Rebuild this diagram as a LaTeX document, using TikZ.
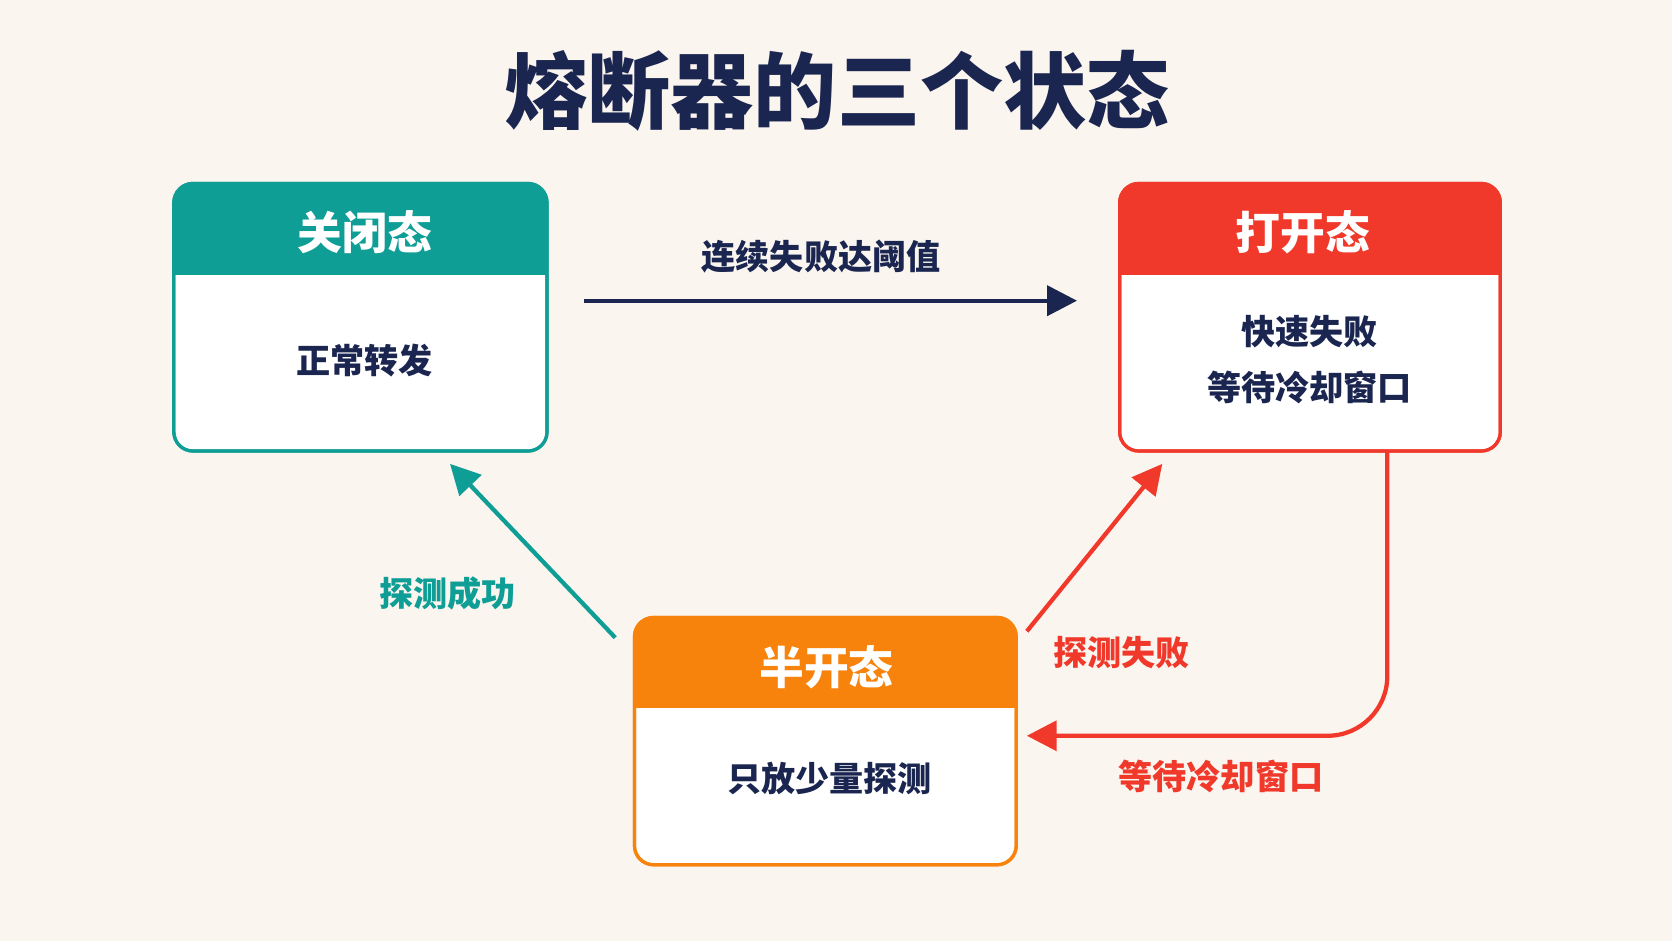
\documentclass[tikz,border=0pt]{standalone}
\usepackage{fontspec}
\setmainfont{Noto Sans CJK SC}
\usetikzlibrary{arrows.meta}
\definecolor{bg}{HTML}{FAF5EF}
\definecolor{navy}{HTML}{1A2550}
\definecolor{teal}{HTML}{0E9E96}
\definecolor{rd}{HTML}{F0392B}
\definecolor{org}{HTML}{F7820C}
\begin{document}
\begin{tikzpicture}[x=0.5pt,y=-0.5pt,
 box/.style={draw=#1,line width=1.5pt,fill=white,rounded corners=9pt},
 head/.style={fill=#1,rounded corners=9pt},
 htxt/.style={text=white,font=\fontsize{21}{24}\selectfont\bfseries},
 btxt/.style={text=navy,font=\fontsize{16}{20}\selectfont\bfseries,align=center},
 lbl/.style={font=\fontsize{16}{20}\selectfont\bfseries},
 arr/.style={line width=2pt,-{Triangle[length=14pt,width=14pt]}}]
\fill[bg] (0,0) rectangle (1568,882);
\node[text=navy,font=\fontsize{39}{44}\selectfont\bfseries] (title) at (785,85) {熔断器的三个状态};
% closed
\path[box=teal] (163,172) rectangle (513,423);
\begin{scope}
\clip[rounded corners=9pt] (163,172) rectangle (513,423);
\fill[teal] (163,172) rectangle (513,258);
\end{scope}
\draw[teal,line width=1.5pt,rounded corners=9pt] (163,172) rectangle (513,423);
\node[htxt] (ch) at (342,218) {关闭态};
\node[btxt] (cb) at (342,338) {正常转发};
\coordinate (closed) at (338,297);
% open
\path[box=rd] (1050,172) rectangle (1407,423);
\begin{scope}
\clip[rounded corners=9pt] (1050,172) rectangle (1407,423);
\fill[rd] (1050,172) rectangle (1407,258);
\end{scope}
\draw[rd,line width=1.5pt,rounded corners=9pt] (1050,172) rectangle (1407,423);
\node[htxt] (oh) at (1222,218) {打开态};
\node[btxt] (ob1) at (1228,311) {快速失败};
\node[btxt] (ob2) at (1228,363) {等待冷却窗口};
% half
\path[box=org] (595,579) rectangle (953,811);
\begin{scope}
\clip[rounded corners=9pt] (595,579) rectangle (953,811);
\fill[org] (595,579) rectangle (953,664);
\end{scope}
\draw[org,line width=1.5pt,rounded corners=9pt] (595,579) rectangle (953,811);
\node[htxt] (hh) at (775,626) {半开态};
\node[btxt] (hb) at (778,730) {只放少量探测};
% arrows
\coordinate (a1s) at (548,282); \coordinate (a1e) at (1010,282);
\draw[arr,navy] (a1s) -- (a1e);
\node[lbl,text=navy] (l1) at (770,241) {连续失败达阈值};
\coordinate (a2s) at (577,598); \coordinate (a2e) at (422,435);
\draw[arr,teal] (a2s) -- (a2e);
\node[lbl,text=teal] (l2) at (420,557) {探测成功};
\coordinate (a3s) at (963,592); \coordinate (a3e) at (1090,435);
\draw[arr,rd] (a3s) -- (a3e);
\node[lbl,text=rd] (l3) at (1052,612) {探测失败};
\coordinate (a4s) at (1301,423); \coordinate (a4e) at (963,690);
\draw[arr,rd,rounded corners=28pt] (a4s) -- (1301,690) -- (a4e);
\node[lbl,text=rd] (l4) at (1145,728) {等待冷却窗口};
\end{tikzpicture}
\end{document}
